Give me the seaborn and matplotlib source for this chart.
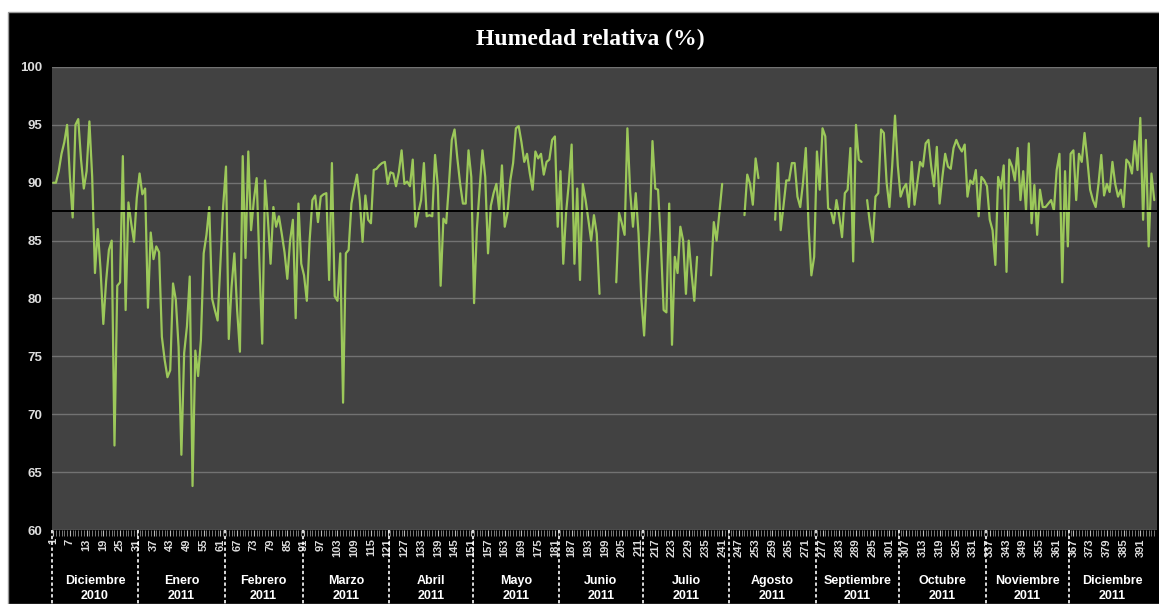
import numpy as np
import pandas as pd
import matplotlib.pyplot as plt
import seaborn as sns
from matplotlib.patches import Rectangle
from matplotlib.transforms import blended_transform_factory

nan = np.nan

# Humedad relativa diaria (%), dic 2010 - dic 2011 (NaN = sin dato)
dic_2010 = [90, 90, 91, 92.5, 93.5, 95, 90.5, 87, 95, 95.5, 92, 89.5, 91, 95.3, 90.5, 82.2,
            86, 82.5, 77.8, 81.5, 84.2, 85, 67.3, 81.1, 81.4, 92.3, 79, 88.3, 86.5, 84.9, 88.7]
ene_2011 = [90.8, 89, 89.5, 79.2, 85.7, 83.4, 84.5, 84, 76.7, 74.7, 73.2, 73.8, 81.3, 79.9, 75.8,
            66.5, 75.3, 77.6, 81.9, 63.8, 75.5, 73.3, 76.4, 83.9, 85.5, 87.9, 80, 79, 78.1, 83, 88]
feb_2011 = [91.4, 76.5, 81, 83.9, 79, 75.4, 92.3, 83.5, 92.7, 85.9, 88.5, 90.4, 83, 76.1, 90.2,
            87, 83, 87.9, 86.2, 87.1, 85.6, 84, 81.7, 85, 86.8, 78.3, 88.2, 83]
mar_2011 = [82, 79.8, 85, 88.5, 88.9, 86.6, 88.8, 89, 89.1, 81.6, 91.7, 80.2, 79.8, 83.9, 71.0,
            83.9, 84.2, 88.2, 89.5, 90.7, 88.5, 84.9, 88.9, 86.8, 86.5, 91.1, 91.2, 91.5, 91.7,
            91.8, 89.9]
abr_2011 = [90.9, 90.8, 89.7, 90.9, 92.8, 89.9, 90.1, 89.7, 92.0, 86.2, 87.4, 88.5, 91.7, 87.1,
            87.2, 87.1, 92.4, 89.7, 81.1, 86.9, 86.5, 89.9, 93.7, 94.6, 92.1, 89.9, 88.2, 88.2,
            92.8, 90.5]
may_2011 = [79.6, 86, 89.5, 92.8, 90.5, 83.9, 88, 89.1, 89.9, 87.6, 91.5, 86.2, 87.4, 90.2, 91.7,
            94.7, 94.9, 93.5, 91.8, 92.5, 90.8, 89.4, 92.7, 92.1, 92.5, 90.7, 91.8, 92, 93.7, 94,
            86.2]
jun_2011 = [91, 83, 87.4, 90, 93.3, 83, 89.5, 81.6, 89.9, 88.5, 86.8, 85, 87.2, 85.6, 80.4,
            nan, nan, nan, nan, nan, 81.4, 87.4, 86.5, 85.5, 94.7, 89.2, 86.2, 89.1, 85.6, 80]
jul_2011 = [76.8, 82, 85.9, 93.6, 89.5, 89.4, 84.8, 79, 78.8, 88.2, 76, 83.6, 82.2, 86.2, 85,
            80.4, 85, 82.2, 79.8, 83.6, nan, nan, nan, nan, 82, 86.6, 85, 87.4, 89.9, nan, nan]
ago_2011 = [nan, nan, nan, nan, nan, 87.2, 90.7, 89.9, 88.1, 92.1, 90.4, nan, nan, nan, nan, nan,
            86.8, 91.7, 85.9, 88, 90.2, 90.2, 91.7, 91.7, 88.8, 87.9, 90, 93, 86.2, 82, 83.6]
sep_2011 = [92.7, 89.4, 94.7, 94, 87.8, 87.6, 86.5, 88.5, 87.1, 85.3, 89.1, 89.4, 93, 83.2, 95,
            92, 91.8, nan, 88.5, 86.5, 84.9, 88.8, 89.1, 94.6, 94.3, 90, 87.9, 91.5, 95.8, 91.5]
oct_2011 = [88.8, 89.5, 89.9, 87.9, 91.8, 88.1, 90, 91.8, 91.4, 93.4, 93.7, 91.4, 89.7, 93.1,
            88.2, 90.5, 92.5, 91.4, 91.2, 93, 93.7, 93.1, 92.7, 93.3, 88.8, 90.2, 89.9, 91.1,
            87.1, 90.5, 90.2]
nov_2011 = [89.7, 86.8, 85.9, 82.9, 90.5, 89.5, 91.5, 82.3, 92, 91.4, 90.2, 93, 88.5, 91, 87.6,
            93.4, 86.5, 89.8, 85.5, 89.4, 87.9, 87.9, 88.2, 88.5, 87.6, 91.1, 92.5, 81.4, 91, 84.5]
dic_2011 = [92.5, 92.8, 88.5, 92.5, 91.8, 94.3, 92, 89.4, 88.5, 87.9, 89.9, 92.4, 88.9, 89.9,
            89.2, 91.8, 89.9, 88.8, 89.4, 87.9, 92, 91.7, 90.8, 93.6, 91.1, 95.6, 86.8, 93.7,
            84.5, 90.8, 88.5]

meses = ['Diciembre\n2010', 'Enero\n2011', 'Febrero\n2011', 'Marzo\n2011', 'Abril\n2011',
         'Mayo\n2011', 'Junio\n2011', 'Julio\n2011', 'Agosto\n2011', 'Septiembre\n2011',
         'Octubre\n2011', 'Noviembre\n2011', 'Diciembre\n2011']
datos_mes = [dic_2010, ene_2011, feb_2011, mar_2011, abr_2011, may_2011, jun_2011,
             jul_2011, ago_2011, sep_2011, oct_2011, nov_2011, dic_2011]

humedad = sum(datos_mes, [])
dias = np.arange(1, len(humedad) + 1)

df = pd.DataFrame({'dia': dias, 'humedad': humedad})
# tramos continuos para dejar huecos donde falta el dato
df['tramo'] = df['humedad'].isna().cumsum()
df = df.dropna()

sns.set_style('dark', {'axes.facecolor': '#424242'})
plt.rcParams['font.family'] = ['Liberation Sans', 'DejaVu Sans']

fig = plt.figure(figsize=(11.59, 6.04), dpi=100, facecolor='white')
fig.patches.append(Rectangle((8 / 1159, 0), 1, 1 - 12 / 604, transform=fig.transFigure,
                             facecolor='black', edgecolor='#9a9a9a', lw=1, zorder=-1))
ax = fig.add_axes([0.0449, 0.1225, 0.9534, 0.7666])

sns.lineplot(data=df, x='dia', y='humedad', units='tramo', estimator=None,
             color='#9cc85a', linewidth=1.6, ax=ax)
ax.axhline(np.nanmean(humedad), color='black', lw=1.4)

ax.set_xlim(0.6, 397)
ax.set_ylim(60, 100)
ax.set_yticks(range(60, 101, 5))
ax.yaxis.grid(True, color='#727272', lw=1)
ax.xaxis.grid(False)
ax.set_xticks(range(1, len(humedad) + 1, 6))
ax.set_xticks(dias, minor=True)
ax.set_xlabel('')
ax.set_ylabel('')
for s in ax.spines.values():
    s.set_visible(False)

ax.tick_params(axis='x', which='major', length=4, color='#bbbbbb', width=0.8,
               labelrotation=90, labelsize=8, labelcolor='#dddddd', pad=2, bottom=True)
ax.tick_params(axis='x', which='minor', length=4, color='#8a8a8a', width=0.6, bottom=True)
ax.tick_params(axis='y', length=0, labelsize=9.5, labelcolor='#dddddd', pad=7)
for t in ax.get_yticklabels() + ax.get_xticklabels():
    t.set_fontweight('bold')

# separadores y nombres de mes bajo el eje
trans = blended_transform_factory(ax.transData, ax.transAxes)
inicio = 1
for nombre, valores in zip(meses, datos_mes):
    fin = inicio + len(valores) - 1
    ax.plot([inicio - 0.5, inicio - 0.5], [0, -0.17], transform=trans, color='white',
            ls=(0, (2, 1.5)), lw=1.2, clip_on=False)
    ax.text((inicio + fin) / 2, -0.127, nombre, transform=trans, ha='center', va='center',
            color='white', fontsize=9, fontweight='bold', linespacing=1.35)
    inicio = fin + 1

fig.text(0.509, 0.934, 'Humedad relativa (%)', ha='center', va='center', color='white',
         fontsize=17, fontweight='bold', family=['Liberation Serif', 'DejaVu Serif'])

fig.savefig('out.png', dpi=100, facecolor=fig.get_facecolor())
